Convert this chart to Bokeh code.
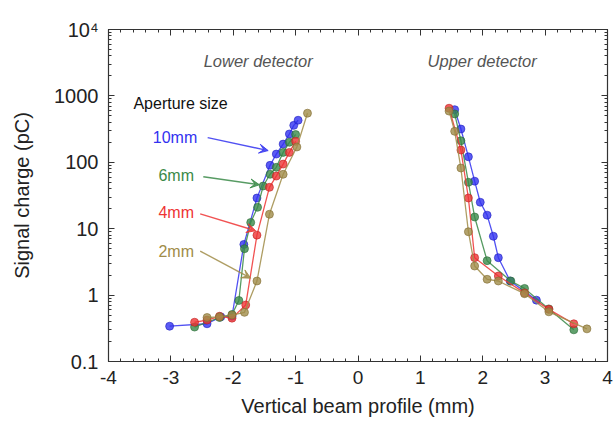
from bokeh.plotting import figure
from bokeh.models import (Range1d, LogAxis, LinearAxis, SingleIntervalTicker, LogTicker,
                          CustomJSTickFormatter, Label, Arrow, VeeHead)
from bokeh.embed import file_html
from bokeh.resources import INLINE

# ---- data ----
series_names = ["10mm", "6mm", "4mm", "2mm"]
series_colors = ["#3232f0", "#3a8a48", "#ee3434", "#a08c48"]
series_lines = ["#2020c0", "#2a6a36", "#c02020", "#806a30"]

lower_x_10 = [-3.02, -2.42, -2.2, -2.02, -1.83, -1.62, -1.41, -1.31, -1.2, -1.1, -1.03, -0.96]
lower_y_10 = [0.34, 0.37, 0.47, 0.48, 5.8, 29, 90, 133, 188, 267, 360, 430]
lower_x_6 = [-2.62, -2.22, -2.02, -1.91, -1.82, -1.72, -1.61, -1.52, -1.41, -1.31, -1.2, -1.1, -1.0]
lower_y_6 = [0.33, 0.46, 0.51, 0.83, 5.0, 12.4, 21, 44, 66, 84, 141, 200, 262]
lower_x_4 = [-2.62, -2.42, -2.22, -2.02, -1.8, -1.62, -1.42, -1.31, -1.2, -1.1, -1.0]
lower_y_4 = [0.39, 0.42, 0.48, 0.45, 0.71, 8.0, 42, 62, 94, 141, 207]
lower_x_2 = [-2.42, -2.22, -2.02, -1.82, -1.62, -1.42, -1.2, -0.98, -0.81]
lower_y_2 = [0.46, 0.47, 0.5, 0.55, 1.63, 16.5, 66, 170, 549]

upper_x_10 = [1.55, 1.65, 1.77, 1.87, 1.96, 2.07, 2.17, 2.25, 2.44, 2.86]
upper_y_10 = [620, 317, 121, 52, 25, 16, 7.7, 3.66, 1.63, 0.84]
upper_x_6 = [1.55, 1.65, 1.77, 1.87, 2.07, 2.45, 2.67, 3.06, 3.46]
upper_y_6 = [535, 211, 50, 15, 3.3, 1.63, 1.26, 0.62, 0.30]
upper_x_4 = [1.46, 1.65, 1.77, 1.87, 2.25, 2.67, 3.06, 3.46]
upper_y_4 = [652, 153, 29, 3.66, 1.94, 1.08, 0.61, 0.37]
upper_x_2 = [1.46, 1.55, 1.65, 1.77, 1.87, 2.07, 2.25, 2.67, 3.06, 3.67]
upper_y_2 = [590, 293, 82, 9.0, 2.74, 1.73, 1.63, 1.05, 0.56, 0.31]

lower = [(lower_x_10, lower_y_10), (lower_x_6, lower_y_6), (lower_x_4, lower_y_4), (lower_x_2, lower_y_2)]
upper = [(upper_x_10, upper_y_10), (upper_x_6, upper_y_6), (upper_x_4, upper_y_4), (upper_x_2, upper_y_2)]

FONT = "Liberation Sans"

p = figure(width=613, height=423, output_backend="svg", toolbar_location=None,
           y_axis_type="log", x_range=Range1d(-4, 4), y_range=Range1d(0.1, 10000),
           min_border_left=108, min_border_right=6, min_border_top=29, min_border_bottom=62)
p.background_fill_color = "white"
p.border_fill_color = "white"
p.outline_line_color = "#333333"
p.outline_line_width = 1.2
p.xgrid.visible = False
p.ygrid.visible = False

yfmt = CustomJSTickFormatter(code="""
if (tick > 5000) return '10\u2074';
if (tick < 0.5) return tick.toFixed(1);
return Math.round(tick).toString();
""")
xfmt = CustomJSTickFormatter(code="return Math.round(tick).toString();")
blank = CustomJSTickFormatter(code="return '';")

def style_axis(ax, labels=True):
    ax.major_tick_in = 6
    ax.major_tick_out = 0
    ax.minor_tick_in = 3
    ax.minor_tick_out = 0
    ax.axis_line_color = "#333333"
    ax.major_tick_line_color = "#333333"
    ax.minor_tick_line_color = "#333333"
    if labels:
        ax.major_label_text_font = FONT
        ax.major_label_text_font_size = "19px"
        ax.major_label_text_color = "#222222"
        ax.axis_label_text_font = FONT
        ax.axis_label_text_font_size = "20px"
        ax.axis_label_text_font_style = "normal"
        ax.axis_label_text_color = "#222222"
    else:
        ax.formatter = blank
        ax.major_label_standoff = 0

p.xaxis.ticker = SingleIntervalTicker(interval=1, num_minor_ticks=5)
p.xaxis.formatter = xfmt
p.xaxis.axis_label = "Vertical beam profile (mm)"
p.xaxis.major_label_standoff = 9
p.xaxis.axis_label_standoff = 8
style_axis(p.xaxis[0])
p.yaxis.ticker = LogTicker(num_minor_ticks=10)
p.yaxis.formatter = yfmt
p.yaxis.axis_label = "Signal charge (pC)"
p.yaxis.major_label_standoff = 10
p.yaxis.axis_label_standoff = 18
style_axis(p.yaxis[0])
p.yaxis.major_label_text_font_size = "20px"

top = LinearAxis(ticker=SingleIntervalTicker(interval=1, num_minor_ticks=5))
style_axis(top, labels=False)
p.add_layout(top, "above")
right = LogAxis(ticker=LogTicker(num_minor_ticks=10))
style_axis(right, labels=False)
p.add_layout(right, "right")

for group in (lower, upper):
    for (xs, ys), c, lc in zip(group, series_colors, series_lines):
        p.line(xs, ys, line_color=c, line_width=1.3, line_alpha=0.85)
        p.scatter(xs, ys, size=8, fill_color=c, fill_alpha=0.8, line_color=lc, line_alpha=0.6, line_width=1)

# text annotations
p.add_layout(Label(x=-1.6, y=3400, text="Lower detector", text_font=FONT, text_font_style="italic",
                   text_font_size="16.5px", text_color="#555555", text_align="center", text_baseline="middle"))
p.add_layout(Label(x=1.99, y=3400, text="Upper detector", text_font=FONT, text_font_style="italic",
                   text_font_size="16.5px", text_color="#555555", text_align="center", text_baseline="middle"))
p.add_layout(Label(x=-3.6, y=760, text="Aperture size", text_font=FONT,
                   text_font_size="16px", text_color="#111111", text_align="left", text_baseline="middle"))

label_pos = [(-3.29, 235), (-3.2, 64), (-3.2, 17.3), (-3.2, 4.6)]
arrows = [((-2.41, 235), (-1.44, 150)),
          ((-2.48, 60.6), (-1.58, 45.9)),
          ((-2.53, 16.7), (-1.64, 9.3)),
          ((-2.53, 4.6), (-1.72, 1.8))]
for name, c, (lx, ly), ((x0, y0), (x1, y1)) in zip(series_names, series_colors, label_pos, arrows):
    p.add_layout(Label(x=lx, y=ly, text=name, text_font=FONT, text_font_size="16px",
                       text_color=c, text_align="left", text_baseline="middle"))
    p.add_layout(Arrow(x_start=x0, y_start=y0, x_end=x1, y_end=y1, line_color=c, line_width=1.4,
                       line_alpha=0.85,
                       end=VeeHead(size=9, fill_color=c, line_color=c, fill_alpha=0.85, line_alpha=0.85)))

open("out.html", "w").write(file_html(p, INLINE))
